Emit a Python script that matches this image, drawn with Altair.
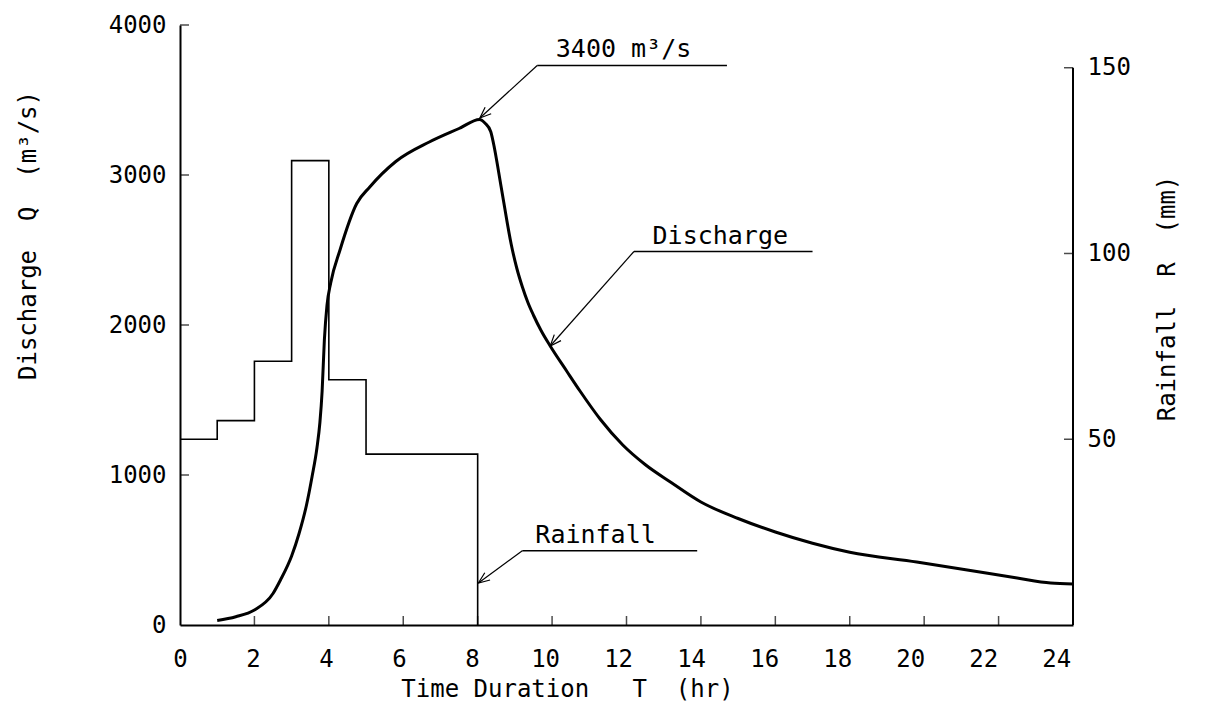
import math
import altair as alt
import pandas as pd

# ---------------- data ----------------
# Discharge hydrograph, Q (m3/s) vs time (hr)
t_hr = [1.0, 1.5, 2.0, 2.5, 2.7, 3.0, 3.2, 3.4, 3.55, 3.68, 3.76, 3.82, 3.88, 3.95, 4.05,
        4.3, 4.75, 5.1, 5.8, 6.7, 7.5, 8.05, 8.2, 8.35, 8.45, 8.55, 8.7, 8.9, 9.05,
        9.2, 9.35, 9.5, 9.7, 9.95, 10.4, 10.75, 11.3, 11.9, 12.5, 13.2, 14.0, 15.0, 16.0,
        17.0, 18.0, 19.8, 21.2, 22.5, 23.4, 24.0]
discharge = [30, 55, 100, 210, 300, 460, 610, 800, 990, 1180, 1350, 1560, 1900, 2130, 2280,
             2500, 2810, 2920, 3090, 3220, 3310, 3370, 3345, 3290, 3180, 3040, 2820, 2540, 2380,
             2255, 2150, 2065, 1965, 1860, 1690, 1560, 1370, 1200, 1070, 950, 820, 710, 620,
             545, 485, 420, 365, 313, 280, 273]

# Rainfall hyetograph, R (mm), step-after
rain_t = [0, 1, 2, 3, 4, 5, 8]
rainfall_mm = [50, 55, 71, 125, 66, 46, 0]

# Axis tick values
x_ticks = [0, 2, 4, 6, 8, 10, 12, 14, 16, 18, 20, 22, 24]
q_ticks = [0, 1000, 2000, 3000, 4000]
r_ticks = [50, 100, 150]

# Annotations (data units)
ann_label = ["3400 m³/s", "Discharge", "Rainfall"]
ann_text_t = [10.1, 12.7, 9.55]
ann_text_q = [3790, 2540, 550]
ann_elbow_t = [9.6, 12.2, 9.2]
ann_elbow_q = [3730, 2490, 495]
ann_end_t = [14.7, 17.0, 13.9]
ann_tip_t = [8.06, 9.95, 8.02]
ann_tip_q = [3380, 1860, 280]

# ---------------- layout ----------------
W, H = 893, 600
X_MAX, Q_MAX, R_MAX = 24, 4000, 161.5
FONT = "DejaVu Sans Mono"
SP = "\u00a0"

px_t = W / X_MAX
px_q = H / Q_MAX
ann_angle = []
for et, eq, pt, pq in zip(ann_elbow_t, ann_elbow_q, ann_tip_t, ann_tip_q):
    dx = (pt - et) * px_t
    dy = -(pq - eq) * px_q
    ann_angle.append(math.degrees(math.atan2(dx, -dy)) % 360)

df_q = pd.DataFrame({"t": t_hr, "q": discharge})
df_r = pd.DataFrame({"t": rain_t, "r": rainfall_mm})
df_xt = pd.DataFrame({"t": x_ticks[1:-1]})
df_qt = pd.DataFrame({"q": q_ticks[1:]})
df_rt = pd.DataFrame({"r": r_ticks})
df_ann = pd.DataFrame({
    "label": ann_label, "tx": ann_text_t, "ty": ann_text_q,
    "ex": ann_elbow_t, "ey": ann_elbow_q, "ux": ann_end_t,
    "px": ann_tip_t, "py": ann_tip_q, "angle": ann_angle,
})

xscale = alt.Scale(domain=[0, X_MAX], nice=False, zero=False)
qscale = alt.Scale(domain=[0, Q_MAX], nice=False)
rscale = alt.Scale(domain=[0, R_MAX], nice=False)

label_style = dict(labelFont=FONT, labelFontSize=24, labelColor="black",
                   titleFont=FONT, titleFontSize=24, titleFontWeight="normal",
                   titleColor="black", ticks=False, grid=False, format="d")

x_title = f"Time{SP}Duration{SP*3}T{SP*2}(hr)"
q_title = f"Discharge{SP*2}Q{SP*2}(m³/s)"
r_title = f"Rainfall{SP*2}R{SP*2}(mm)"

x_axis = alt.Axis(values=x_ticks, title=x_title, labelPadding=22, labelFlush=False,
                  labelOffset=alt.ExprRef("-0.7*datum.value"),
                  domainColor="black", domainWidth=2,
                  titleX=387, titleY=64, titleAlign="center", titleBaseline="middle",
                  **label_style)
q_axis = alt.Axis(values=q_ticks, orient="left", title=q_title,
                  domainColor="black", domainWidth=2,
                  labelPadding=14, titleX=-152, titleY=210, titleAngle=270,
                  titleAlign="center", titleBaseline="middle", **label_style)
r_axis = alt.Axis(values=r_ticks, orient="right", title=r_title,
                  labelPadding=14, titleX=94, titleY=273, titleAngle=270,
                  titleAlign="center", titleBaseline="middle", domain=False,
                  **label_style)

X = lambda f: alt.X(f, scale=xscale)
YQ = lambda f: alt.Y(f, scale=qscale)
YR = lambda f: alt.Y(f, scale=rscale)

q_line = alt.Chart(df_q).mark_line(interpolate="monotone", color="black", strokeWidth=3).encode(
    x=alt.X("t:Q", scale=xscale, axis=x_axis),
    y=alt.Y("q:Q", scale=qscale, axis=q_axis),
)
q_tick_marks = alt.Chart(df_qt).transform_calculate(t="0").mark_tick(
    orient="horizontal", size=9, thickness=1.5, xOffset=4.5, color="black").encode(
    x=X("t:Q"), y=YQ("q:Q"))
x_tick_marks = alt.Chart(df_xt).transform_calculate(q="0").mark_tick(
    orient="vertical", size=9, thickness=1.5, yOffset=-4.5, color="black").encode(
    x=X("t:Q"), y=YQ("q:Q"))
leaders = alt.Chart(df_ann).mark_rule(color="black", strokeWidth=1.2).encode(
    x=X("ex:Q"), y=YQ("ey:Q"), x2="px:Q", y2="py:Q")
underlines = alt.Chart(df_ann).mark_rule(color="black", strokeWidth=1.5).encode(
    x=X("ex:Q"), x2="ux:Q", y=YQ("ey:Q"))
labels = alt.Chart(df_ann).mark_text(align="left", baseline="alphabetic", font=FONT,
                                     fontSize=25, color="black").encode(
    x=X("tx:Q"), y=YQ("ty:Q"), text="label:N")
heads = alt.Chart(df_ann).mark_point(shape="M -0.4 1 L 0 0 L 0.4 1", filled=False,
                                     size=500, strokeWidth=1.2, color="black", opacity=1).encode(
    x=X("px:Q"), y=YQ("py:Q"), angle=alt.Angle("angle:Q", scale=None))

q_group = alt.layer(q_line, q_tick_marks, x_tick_marks, leaders, underlines, labels, heads)

r_line = alt.Chart(df_r).mark_line(interpolate="step-after", color="black", strokeWidth=1.6).encode(
    x=X("t:Q"), y=alt.Y("r:Q", scale=rscale, axis=r_axis))
r_tick_marks = alt.Chart(df_rt).transform_calculate(t="24").mark_tick(
    orient="horizontal", size=9, thickness=1.5, xOffset=-4.5, color="black").encode(
    x=X("t:Q"), y=YR("r:Q"))
r_domain = alt.Chart(pd.DataFrame({"r": [max(r_ticks)]})).transform_calculate(
    t="24", r0="0").mark_rule(color="black", strokeWidth=2).encode(
    x=X("t:Q"), y=YR("r0:Q"), y2="r:Q")
r_group = alt.layer(r_line, r_tick_marks, r_domain)

chart = alt.layer(q_group, r_group).resolve_scale(y="independent").properties(
    width=W, height=H,
    autosize=alt.AutoSizeParams(type="none"),
    padding={"left": 172, "top": 17, "right": 125, "bottom": 80},
    background="white",
).configure_view(stroke=None)

chart.save("out.html", embed_options={"renderer": "svg", "actions": False})
